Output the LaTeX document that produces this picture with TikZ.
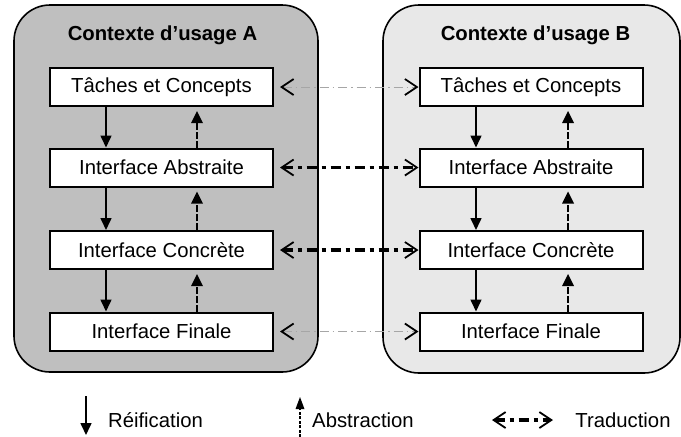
\documentclass[tikz,border=0pt]{standalone}
\usepackage{fontspec}
\setmainfont{Liberation Sans}
\usetikzlibrary{arrows.meta}
\begin{document}
\begin{tikzpicture}[x=1pt,y=-1pt,
  ctx/.style={draw=black,line width=1.6pt,rounded corners=36pt},
  box/.style={draw=black,line width=2pt,fill=white,minimum width=223pt,minimum height=38pt,inner sep=0pt,font=\fontsize{20.3}{24}\selectfont},
  ttl/.style={font=\fontsize{20.3}{24}\selectfont\bfseries},
  lbl/.style={font=\fontsize{20.3}{24}\selectfont,anchor=center},
  reif/.style={line width=1.6pt,-{Triangle[length=12pt,width=11pt]}},
  abst/.style={line width=2.8pt,dash pattern=on 7pt off 2pt,-{Triangle[length=12pt,width=12pt,line width=0pt]}},
  abstleg/.style={line width=1.6pt,dash pattern=on 3pt off 1.5pt,-{Triangle[length=12pt,width=9pt,line width=0pt]}},
  tradthin/.style={draw=gray!70,line width=0.7pt,dash pattern=on 9pt off 4pt on 1.5pt off 4pt,{Straight Barb[length=12pt,width=16pt,color=black,line width=1.8pt]}-{Straight Barb[length=12pt,width=16pt,color=black,line width=1.8pt]}},
  tradthick/.style={line width=3.5pt,dash pattern=on 10pt off 5pt on 4pt off 5pt,{Straight Barb[length=12pt,width=16pt,line width=1.8pt]}-{Straight Barb[length=12pt,width=16pt,line width=1.8pt]}}
]
\useasboundingbox (0,0) rectangle (681,437);
% containers
\path[ctx,fill=black!25] (14,5) rectangle (318,372);
\path[ctx,fill=black!9] (383,5) rectangle (680,373);
\node[ttl] (tA) at (162.5,35) {Contexte d’usage A};
\node[ttl] (tB) at (535.5,35) {Contexte d’usage B};
% boxes A
\node[box] (a1) at (161.5,87) {Tâches et Concepts};
\node[box] (a2) at (161.5,167.5) {Interface Abstraite};
\node[box] (a3) at (161.5,250) {Interface Concrète};
\node[box] (a4) at (161.5,331.5) {Interface Finale};
% boxes B
\node[box] (b1) at (531,87) {Tâches et Concepts};
\node[box] (b2) at (531,167.5) {Interface Abstraite};
\node[box] (b3) at (531,250) {Interface Concrète};
\node[box] (b4) at (531,331.5) {Interface Finale};
% columns
\coordinate (dA) at (106,0);
\coordinate (uA) at (197,0);
\coordinate (dB) at (476,0);
\coordinate (uB) at (568,0);
\foreach \u/\l in {1/2,2/3,3/4}{
  \draw[reif] (a\u.south -| dA) -- (a\l.north -| dA);
  \draw[reif] (b\u.south -| dB) -- (b\l.north -| dB);
  \draw[abst,shorten >=4pt] (a\l.north -| uA) -- (a\u.south -| uA);
  \draw[abst,shorten >=4pt] (b\l.north -| uB) -- (b\u.south -| uB);
}
% translations
\draw[tradthin,shorten <=6pt] (a1.east) -- (b1.west);
\draw[tradthick,shorten <=6pt] (a2.east) -- (b2.west);
\draw[tradthick,shorten <=6pt] (a3.east) -- (b3.west);
\draw[tradthin,shorten <=6pt] (a4.east) -- (b4.west);
% legend
\coordinate (r1) at (86,396);
\coordinate (r2) at (86,435);
\draw[reif] (r1) -- (r2);
\node[lbl] (lr) at (155.5,420) {Réification};
\coordinate (s1) at (300,437);
\coordinate (s2) at (300,397);
\draw[abstleg] (s1) -- (s2);
\node[lbl] (ls) at (363,420) {Abstraction};
\coordinate (t1) at (492,420);
\coordinate (t2) at (553,420);
\draw[tradthick] (t1) -- (t2);
\node[lbl] (lt) at (623,420) {Traduction};
\end{tikzpicture}
\end{document}
